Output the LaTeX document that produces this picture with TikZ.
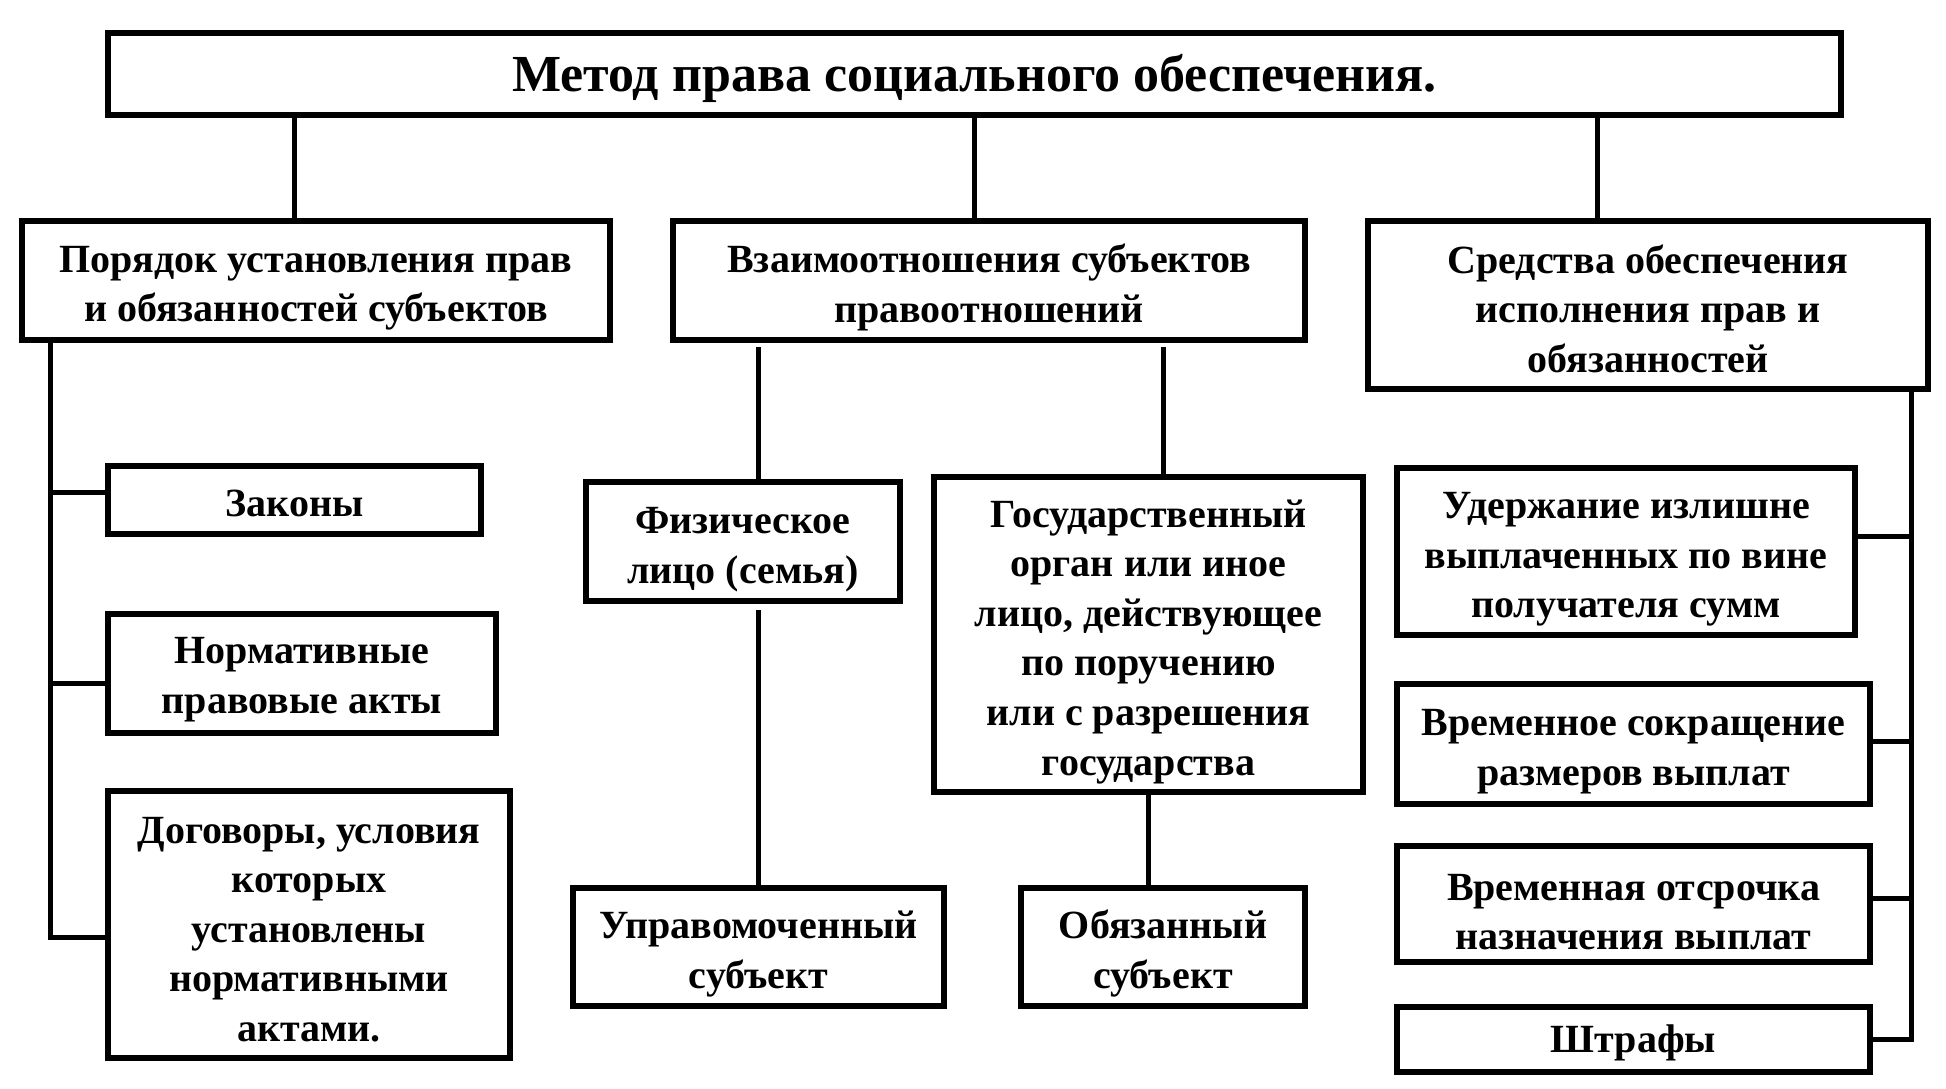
\documentclass[tikz,border=0pt]{standalone}
\usepackage{fontspec}
\setmainfont{Liberation Serif}
% подпорка, опускающая текст внутри рамки
\newcommand{\verh}[1][1.05em]{\rule{0pt}{#1}}
\tikzset{
  blok/.style={draw, line width=6pt, align=center, inner sep=0pt,
    font=\fontsize{40}{49.6}\selectfont\bfseries},
  svyaz/.style={line width=5pt}
}
\begin{document}
\begin{tikzpicture}[x=1pt,y=1pt]
\useasboundingbox (0,0) rectangle (1946,1088);

% Заголовок
\node[blok, minimum width=1733, minimum height=82,
  font=\fontsize{52}{62}\selectfont\bfseries] (metod) at (974.5,1014)
  {\verh[0.89em]Метод права социального обеспечения.};

% Три основных блока
\node[blok, minimum width=588, minimum height=119] (poryadok) at (316,807.5)
  {\verh Порядок установления прав\\и обязанностей субъектов};
\node[blok, minimum width=632, minimum height=119] (vzaim) at (989,807.5)
  {\verh Взаимоотношения субъектов\\правоотношений};
\node[blok, minimum width=560, minimum height=168] (sredstva) at (1648,783)
  {\verh[0.9em]Средства обеспечения\\исполнения прав и\\обязанностей};

% Левая ветка
\node[blok, minimum width=373, minimum height=68] (zakony) at (294.5,588)
  {\verh[0.84em]Законы};
\node[blok, minimum width=388, minimum height=119] (npa) at (302,414.5)
  {\verh[0.95em]Нормативные\\правовые акты};
\node[blok, minimum width=402, minimum height=267] (dogovory) at (309,163.5)
  {\verh[0.9em]Договоры, условия\\которых\\установлены\\нормативными\\актами.};

% Средняя ветка
\node[blok, minimum width=314, minimum height=119] (fizlico) at (743,546.5)
  {\verh Физическое\\лицо (семья)};
\node[blok, minimum width=429, minimum height=315] (gosorgan) at (1148.5,453.5)
  {\verh Государственный\\орган или иное\\лицо, действующее\\по поручению\\или с разрешения\\государства};
\node[blok, minimum width=371, minimum height=118] (upravom) at (758.5,141)
  {\verh Управомоченный\\субъект};
\node[blok, minimum width=284, minimum height=118] (obyazan) at (1163,141)
  {\verh Обязанный\\субъект};

% Правая ветка
\node[blok, minimum width=458, minimum height=167] (uderzh) at (1626,536.5)
  {\verh Удержание излишне\\выплаченных по вине\\получателя сумм};
\node[blok, minimum width=473, minimum height=120] (sokr) at (1633.5,344)
  {\verh Временное сокращение\\размеров выплат};
\node[blok, minimum width=473, minimum height=116] (otsr) at (1633.5,184)
  {\verh Временная отсрочка\\назначения выплат};
\node[blok, minimum width=473, minimum height=65] (shtraf) at (1633.5,48.5)
  {\verh[0.86em]Штрафы};

% Точки шин
\coordinate (lshina) at (50,0);
\coordinate (rshina) at (1911,0);
\coordinate (rverh) at (1597,0);

% Связи от заголовка
\draw[svyaz] (metod.south -| zakony) -- (poryadok.north -| zakony);
\draw[svyaz] (metod.south) -- (metod.south |- vzaim.north);
\draw[svyaz] (metod.south -| rverh) -- (sredstva.north -| rverh);

% Левая шина
\draw[svyaz] (poryadok.south -| lshina) |- ([yshift=7pt]zakony.west);
\draw[svyaz] (poryadok.south -| lshina) |- ([yshift=-10pt]npa.west);
\draw[svyaz] (poryadok.south -| lshina) |- ([yshift=-12.5pt]dogovory.west);

% Средние связи
\draw[svyaz, shorten <=4pt] (vzaim.south -| upravom) -- (fizlico.north -| upravom);
\draw[svyaz, shorten <=4pt] (vzaim.south -| obyazan) -- (gosorgan.north -| obyazan);
\draw[svyaz, shorten <=6pt] (fizlico.south -| upravom) -- (upravom.north);
\draw[svyaz] (gosorgan.south) -- (gosorgan.south |- obyazan.north);

% Правая шина
\draw[svyaz] (sredstva.south -| rshina) |- ([yshift=14.5pt]uderzh.east);
\draw[svyaz] (sredstva.south -| rshina) |- ([yshift=3pt]sokr.east);
\draw[svyaz] (sredstva.south -| rshina) |- ([yshift=6pt]otsr.east);
\draw[svyaz] (sredstva.south -| rshina) |- (shtraf.east);
\end{tikzpicture}
\end{document}
